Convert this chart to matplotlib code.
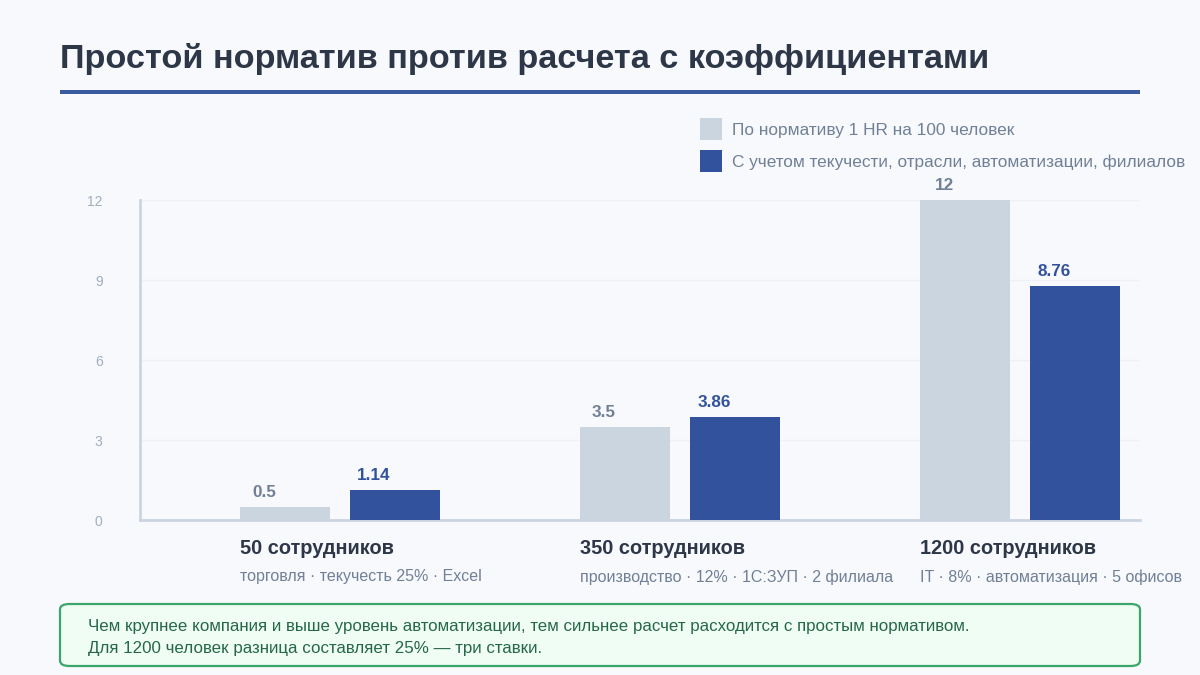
import matplotlib.pyplot as plt
import numpy as np
from matplotlib.patches import FancyBboxPatch, Rectangle

plt.rcParams['font.family'] = ['Liberation Sans', 'DejaVu Sans']

# Data
categories = ['50 сотрудников', '350 сотрудников', '1200 сотрудников']
subtitles = ['торговля · текучесть 25% · Excel',
             'производство · 12% · 1С:ЗУП · 2 филиала',
             'IT · 8% · автоматизация · 5 офисов']
norm_values = [0.5, 3.5, 12]
coef_values = [1.14, 3.86, 8.76]
norm_labels = ['0.5', '3.5', '12']
coef_labels = ['1.14', '3.86', '8.76']
series_names = ['По нормативу 1 HR на 100 человек',
                'С учетом текучести, отрасли, автоматизации, филиалов']
yticks = [0, 3, 6, 9, 12]

bg = '#f7f9fc'
light = '#cbd5e0'
dark = '#33529e'

fig = plt.figure(figsize=(12, 6.75), dpi=100, facecolor=bg)

# Title and underline
fig.text(60 / 1200, 1 - 59 / 675, 'Простой норматив против расчета с коэффициентами',
         fontsize=24.7, fontweight='bold', color='#2d3748', va='center', ha='left')
fig.add_artist(Rectangle((60 / 1200, 1 - 93.5 / 675), 1080 / 1200, 3 / 675,
                         transform=fig.transFigure, color='#3a5ba0', lw=0))

# Axes: x 140..1140 px, y 200..520 px
ax = fig.add_axes([140 / 1200, 1 - 520 / 675, 1000 / 1200, 320 / 675])
ax.set_facecolor(bg)

step = 340.0
x = np.arange(len(categories))
w = 90 / step
off = 55 / step
ax.bar(x - off, norm_values, w, color=light, zorder=3)
ax.bar(x + off, coef_values, w, color=dark, zorder=3)

ax.set_xlim(-200 / step, 2 + 120 / step)
ax.set_ylim(0, 12)
ax.set_yticks(yticks)
ax.set_yticklabels([str(t) for t in yticks])
ax.tick_params(axis='y', length=0, pad=27, labelsize=10, labelcolor='#a0aec0')
ax.set_xticks([])
ax.grid(axis='y', color='#edf0f4', lw=1, zorder=0)
for s in ['top', 'right']:
    ax.spines[s].set_visible(False)
for s in ['left', 'bottom']:
    ax.spines[s].set_color('#cbd5e0')
    ax.spines[s].set_linewidth(2)

# Value labels
lab_dx = 24 / step
for i in range(len(categories)):
    ax.annotate(norm_labels[i], (x[i] - off - w / 2 + lab_dx, norm_values[i]),
                xytext=(0, 10.5), textcoords='offset points', ha='center', va='center',
                fontsize=12.3, fontweight='bold', color='#718096', zorder=4,
                annotation_clip=False)
    ax.annotate(coef_labels[i], (x[i] + off - w / 2 + lab_dx, coef_values[i]),
                xytext=(0, 10.5), textcoords='offset points', ha='center', va='center',
                fontsize=12.3, fontweight='bold', color=dark, zorder=4,
                annotation_clip=False)
    # category labels
    ax.annotate(categories[i], (x[i] - off - w / 2, 0), xytext=(0, -20.5),
                textcoords='offset points', ha='left', va='center',
                fontsize=14.4, fontweight='bold', color='#2d3748', annotation_clip=False)
    ax.annotate(subtitles[i], (x[i] - off - w / 2, 0), xytext=(0, -41),
                textcoords='offset points', ha='left', va='center',
                fontsize=11.5, color='#718096', annotation_clip=False)

# Legend
for j, (name, col) in enumerate(zip(series_names, [light, dark])):
    yc = 129 + 32 * j
    fig.add_artist(Rectangle((700 / 1200, 1 - (yc + 11) / 675), 22 / 1200, 22 / 675,
                             transform=fig.transFigure, color=col, lw=0))
    fig.text(732 / 1200, 1 - (yc + 1.5) / 675, name, fontsize=12.4, color='#718096',
             va='center', ha='left')

# Note box
box = FancyBboxPatch((60 / 1200, 1 - 666 / 675), 1080 / 1200, 62 / 675,
                     boxstyle='round,pad=0,rounding_size=0.008',
                     transform=fig.transFigure, facecolor='#effdf4',
                     edgecolor='#3aa66a', lw=1.6)
fig.add_artist(box)
fig.text(88 / 1200, 1 - 626 / 675,
         'Чем крупнее компания и выше уровень автоматизации, тем сильнее расчет расходится с простым нормативом.',
         fontsize=12.2, color='#276749', va='center', ha='left')
fig.text(88 / 1200, 1 - 648 / 675,
         'Для 1200 человек разница составляет 25% — три ставки.',
         fontsize=12.2, color='#276749', va='center', ha='left')

fig.savefig('out.png', dpi=100, facecolor=bg)
